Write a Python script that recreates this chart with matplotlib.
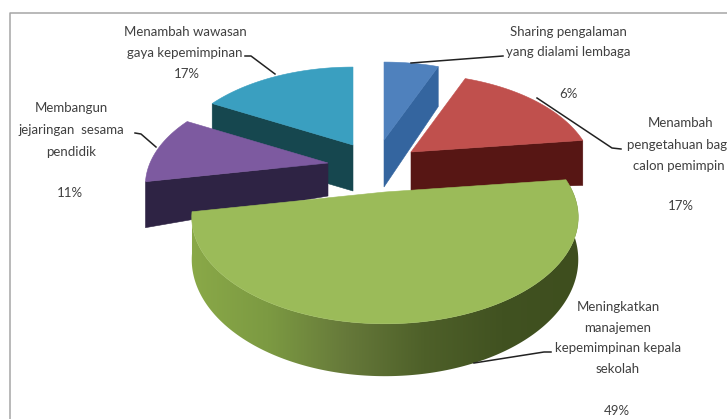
import numpy as np
import matplotlib
matplotlib.use('Agg')
import matplotlib.pyplot as plt
from matplotlib.colors import LinearSegmentedColormap
from matplotlib.patches import Polygon

# Slices in clockwise order, starting from twelve o'clock
labels = [
    ['Sharing pengalaman', 'yang dialami lembaga'],
    ['Menambah', 'pengetahuan bag', 'calon pemimpin'],
    ['Meningkatkan', 'manajemen', 'kepemimpinan kepala', 'sekolah'],
    ['Membangun', 'jejaringan  sesama', 'pendidik'],
    ['Menambah wawasan', 'gaya kepemimpinan'],
]
values = [6, 17, 49, 11, 17]

top_colors = ['#4f81bd', '#c0504d', '#9bbb59', '#7d5aa0', '#3a9fc0']
side_colors = ['#34659f', '#571614', None, '#2e2344', '#16474f']

# Position of each slice's tip after exploding, and its size
apex_x = [384, 411, 385, 328, 353]
apex_y = [140, 152, 192, 163, 145]
radius_scale = [1.0, 1.0, 1.055, 1.0, 1.0]
# Thickness of the cut face at the tip and at the rim
tip_depths = [47, 39, 40, 33, 46]
rim_depths = [40, 45, 40, 46, 46]

# x, y of first line, x of percent, y of percent, line spacing
text_x = [568, 681, 618, 71, 185]
text_y = [32, 123, 307, 108, 32]
pct_x = [568, 681, 617, 70, 187]
pct_y = [94, 206, 411, 193, 74]
line_step = [20.5, 21.5, 20.7, 22, 21]
# The long line of the second label sits a little left of the others
line_nudge = {(1, 1): -4, (1, 2): -2}

# Leader lines in pixels
leaders = [
    [(503, 56), (411, 63)],
    [(621, 149), (612, 148), (537, 98)],
    [(551, 352), (544, 352), (474, 363)],
    [(135, 133), (141, 134), (156, 147)],
    [(245, 56), (251, 56), (275, 74)],
]

RX, RY, PERSPECTIVE = 178, 95.4, 0.224


def project(theta, apex, scale, drop=0.0):
    # Ground plane to pixels, far points shrink towards the horizon
    x = scale * np.sin(theta)
    y = scale * np.cos(theta)
    s = 1.0 / (1.0 + PERSPECTIVE * y)
    return apex[0] + RX * x * s, apex[1] - RY * y * s + drop * s


def face_outline(a0, a1, apex, scale):
    thetas = np.linspace(a0, a1, 80)
    xs, ys = project(thetas, apex, scale)
    return [apex] + list(zip(xs, ys))


def draw_radial_side(ax, theta, apex, scale, tip_depth, rim_depth, color):
    outer_x, outer_y = project(theta, apex, scale)
    pts = [apex, (outer_x, outer_y), (outer_x, outer_y + rim_depth), (apex[0], apex[1] + tip_depth)]
    ax.add_patch(Polygon(pts, closed=True, fc=color, ec=color, lw=0.4))


def draw_round_side(ax, a0, a1, apex, scale, depth):
    # Rim of the big slice, shaded from lit left to dark right
    cmap = LinearSegmentedColormap.from_list(
        'rim', ['#8aa948', '#7c9a42', '#66793a', '#4e6029', '#415221', '#3e4e1e'])
    thetas = np.linspace(a0, a1, 200)
    xs, ys = project(thetas, apex, scale)
    xb, yb = project(thetas, apex, scale, depth)
    outline = list(zip(xs, ys)) + list(zip(xb[::-1], yb[::-1]))
    clip = Polygon(outline, closed=True, transform=ax.transData)
    shade = np.linspace(0, 1, 256).reshape(1, -1)
    img = ax.imshow(shade, cmap=cmap, aspect='auto', interpolation='bilinear',
                    extent=(190, 580, 380, 180))
    img.set_clip_path(clip)


plt.rcParams['font.family'] = ['Lato', 'DejaVu Sans']

fig = plt.figure(figsize=(7.27, 4.19), dpi=100)
ax = fig.add_axes([0, 0, 1, 1])
ax.axis('off')

# Chart area border, only the top and left edges show
ax.plot([10, 10, 727], [419, 13, 13], color='#a6a6a6', lw=1.1)

edges = np.radians(np.concatenate([[0], np.cumsum(values)]) * 3.6)
for i in [4, 3, 0, 1, 2]:
    apex = (apex_x[i], apex_y[i])
    scale = radius_scale[i]
    a0, a1 = edges[i], edges[i + 1]
    if i == 2:
        draw_round_side(ax, a0, a1, apex, scale, tip_depths[i])
    elif i == 0 or i == 1:
        draw_radial_side(ax, a1, apex, scale, tip_depths[i], rim_depths[i], side_colors[i])
    else:
        draw_radial_side(ax, a0, apex, scale, tip_depths[i], rim_depths[i], side_colors[i])
    ax.add_patch(Polygon(face_outline(a0, a1, apex, scale), closed=True,
                         fc=top_colors[i], ec=top_colors[i], lw=0.4))

for pts in leaders:
    ax.plot([p[0] for p in pts], [p[1] for p in pts], color='#222222', lw=1.1)

for i, lines in enumerate(labels):
    for j, line in enumerate(lines):
        ax.text(text_x[i] + line_nudge.get((i, j), 0), text_y[i] + j * line_step[i], line,
                ha='center', va='center', fontsize=9.5, color='#404040')
    ax.text(pct_x[i], pct_y[i], f'{values[i]}%', ha='center', va='center',
            fontsize=9.5, color='#404040')

ax.set_xlim(0, 727)
ax.set_ylim(419, 0)

fig.savefig('out.png', dpi=100, facecolor='white')
